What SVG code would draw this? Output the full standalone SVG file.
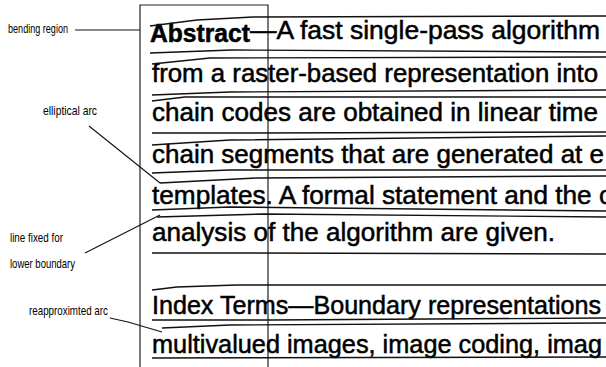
<svg xmlns="http://www.w3.org/2000/svg" width="606" height="367" viewBox="0 0 606 367">
<style>
.t{font-family:"Liberation Sans",Arial,sans-serif;font-size:25px;fill:#000;stroke:#000;stroke-width:0.5}
.b{font-weight:bold}
.lab{font-family:"Liberation Sans",Arial,sans-serif;font-size:13px;fill:#000}
.rule{fill:none;stroke:#111;stroke-width:1.4}
.box{fill:none;stroke:#222;stroke-width:1.2}
.lead{fill:none;stroke:#111;stroke-width:1.1}
</style>
<rect width="606" height="367" fill="#fff"/>
<g id="region-box">
<path class="box" d="M140,367 V5 H268 V367"/>
</g>
<g id="text-lines">
<text class="t b" x="150" y="42" textLength="100" lengthAdjust="spacingAndGlyphs">Abstract</text>
<text class="t" x="250" y="39" textLength="350" lengthAdjust="spacingAndGlyphs">—A fast single-pass algorithm</text>
<text class="t" x="152" y="82" textLength="446" lengthAdjust="spacingAndGlyphs">from a raster-based representation into</text>
<text class="t" x="152" y="121" textLength="446" lengthAdjust="spacingAndGlyphs">chain codes are obtained in linear time</text>
<text class="t" x="152" y="163" textLength="452" lengthAdjust="spacingAndGlyphs">chain segments that are generated at e</text>
<text class="t" x="152" y="204" textLength="460" lengthAdjust="spacingAndGlyphs">templates. A formal statement and the c</text>
<text class="t" x="152" y="241" textLength="403" lengthAdjust="spacingAndGlyphs">analysis of the algorithm are given.</text>
<text class="t" x="152" y="314" textLength="449" lengthAdjust="spacingAndGlyphs">Index Terms—Boundary representations</text>
<text class="t" x="152" y="353" textLength="450" lengthAdjust="spacingAndGlyphs">multivalued images, image coding, imag</text>
</g>
<g id="boundary-lines">
<polyline class="rule" points="150,26 197,20 253,17 606,16"/>
<polyline class="rule" points="150,53 232,50 606,52"/>
<polyline class="rule" points="152,64 210,58 606,57"/>
<polyline class="rule" points="152,95 230,92 606,90"/>
<polyline class="rule" points="152,101 185,97 606,97"/>
<polyline class="rule" points="152,133 230,133 606,132"/>
<polyline class="rule" points="152,145 230,140 606,136"/>
<polyline class="rule" points="152,173 230,170 606,170"/>
<polyline class="rule" points="160,183 257,178 606,176"/>
<polyline class="rule" points="152,210 230,207 606,211"/>
<polyline class="rule" points="157,217 263,214 606,217"/>
<polyline class="rule" points="152,253 230,253 606,254"/>
<polyline class="rule" points="152,290 177,287 237,285 606,285"/>
<polyline class="rule" points="152,320 270,320 606,318"/>
<polyline class="rule" points="162,328 230,325 606,323"/>
<polyline class="rule" points="152,358 606,357"/>
</g>
<g id="label-bending-region">
<text class="lab" x="8" y="33" textLength="60" lengthAdjust="spacingAndGlyphs">bending region</text>
</g>
<g id="label-elliptical-arc">
<text class="lab" x="43" y="115" textLength="54" lengthAdjust="spacingAndGlyphs">elliptical arc</text>
</g>
<g id="label-line-fixed">
<text class="lab" x="10" y="242" textLength="53" lengthAdjust="spacingAndGlyphs">line fixed for</text>
<text class="lab" x="10" y="268" textLength="65" lengthAdjust="spacingAndGlyphs">lower boundary</text>
</g>
<g id="label-reapproximated-arc">
<text class="lab" x="29" y="315" textLength="79" lengthAdjust="spacingAndGlyphs">reapproximted arc</text>
</g>
<g id="connectors">
<line class="lead" x1="75" y1="30" x2="140" y2="30"/>
<line class="lead" x1="89" y1="126" x2="160" y2="183"/>
<line class="lead" x1="85" y1="253" x2="160" y2="215"/>
<polyline class="lead" points="110,318 128,322 162,332"/>
</g>
</svg>
